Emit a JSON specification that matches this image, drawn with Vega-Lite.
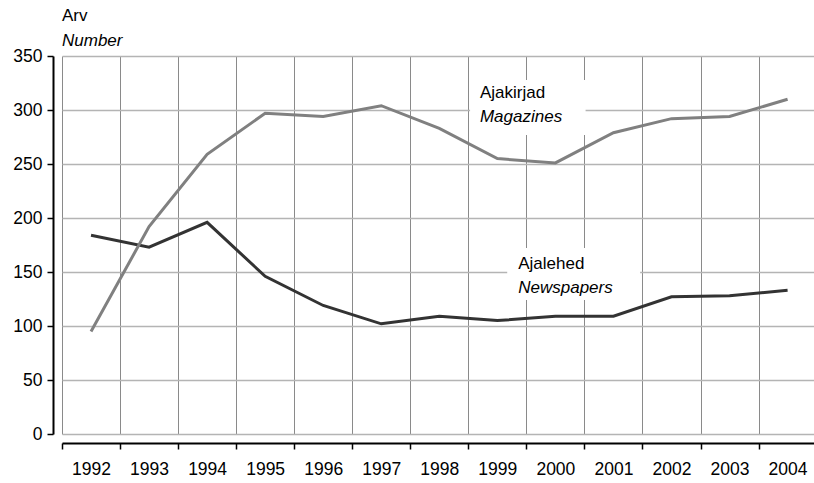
{
  "$schema": "https://vega.github.io/schema/vega-lite/v6.json",
  "width": 752,
  "height": 378,
  "autosize": {"type": "none"},
  "padding": {"left": 62, "top": 56, "right": 0, "bottom": 49},
  "background": "white",
  "config": {
    "view": {"stroke": null},
    "font": "Liberation Sans",
    "text": {"font": "Liberation Sans"}
  },
  "title": {
    "text": "Arv",
    "subtitle": "Number",
    "anchor": "start",
    "frame": "group",
    "font": "Liberation Sans",
    "fontSize": 17,
    "fontWeight": "normal",
    "color": "black",
    "subtitleFont": "Liberation Sans",
    "subtitleFontSize": 17,
    "subtitleFontStyle": "italic",
    "subtitleColor": "black",
    "subtitlePadding": 8,
    "offset": -3
  },
  "datasets": {
    "series": [
      {"x": 1992, "y": 184, "series": "Ajalehed"},
      {"x": 1993, "y": 173, "series": "Ajalehed"},
      {"x": 1994, "y": 196, "series": "Ajalehed"},
      {"x": 1995, "y": 146, "series": "Ajalehed"},
      {"x": 1996, "y": 119, "series": "Ajalehed"},
      {"x": 1997, "y": 102, "series": "Ajalehed"},
      {"x": 1998, "y": 109, "series": "Ajalehed"},
      {"x": 1999, "y": 105, "series": "Ajalehed"},
      {"x": 2000, "y": 109, "series": "Ajalehed"},
      {"x": 2001, "y": 109, "series": "Ajalehed"},
      {"x": 2002, "y": 127, "series": "Ajalehed"},
      {"x": 2003, "y": 128, "series": "Ajalehed"},
      {"x": 2004, "y": 133, "series": "Ajalehed"},
      {"x": 1992, "y": 95, "series": "Ajakirjad"},
      {"x": 1993, "y": 192, "series": "Ajakirjad"},
      {"x": 1994, "y": 259, "series": "Ajakirjad"},
      {"x": 1995, "y": 297, "series": "Ajakirjad"},
      {"x": 1996, "y": 294, "series": "Ajakirjad"},
      {"x": 1997, "y": 304, "series": "Ajakirjad"},
      {"x": 1998, "y": 283, "series": "Ajakirjad"},
      {"x": 1999, "y": 255, "series": "Ajakirjad"},
      {"x": 2000, "y": 251, "series": "Ajakirjad"},
      {"x": 2001, "y": 279, "series": "Ajakirjad"},
      {"x": 2002, "y": 292, "series": "Ajakirjad"},
      {"x": 2003, "y": 294, "series": "Ajakirjad"},
      {"x": 2004, "y": 310, "series": "Ajakirjad"}
    ],
    "boxes": [
      {"x": 1998.53, "x2": 2000.52, "y": 327.8, "y2": 276.9},
      {"x": 1999.17, "x2": 2001.46, "y": 172.2, "y2": 124.1}
    ],
    "labels": [
      {"x": 1998.70, "y": 311, "label": "Ajakirjad", "italic": false},
      {"x": 1998.70, "y": 289.2, "label": "Magazines", "italic": true},
      {"x": 1999.36, "y": 152.8, "label": "Ajalehed", "italic": false},
      {"x": 1999.36, "y": 130.3, "label": "Newspapers", "italic": true}
    ]
  },
  "layer": [
    {
      "data": {"name": "boxes"},
      "mark": {"type": "rect", "fill": "white", "stroke": null},
      "encoding": {
        "x": {"field": "x", "type": "quantitative"},
        "x2": {"field": "x2"},
        "y": {"field": "y", "type": "quantitative"},
        "y2": {"field": "y2"}
      }
    },
    {
      "data": {"name": "series"},
      "mark": {"type": "line", "strokeWidth": 3, "strokeJoin": "miter"},
      "encoding": {
        "x": {
          "field": "x",
          "type": "quantitative",
          "scale": {"domain": [1991.5, 2004.455], "nice": false, "zero": false},
          "axis": {
            "title": null,
            "values": [1991.5, 1992.5, 1993.5, 1994.5, 1995.5, 1996.5, 1997.5, 1998.5, 1999.5, 2000.5, 2001.5, 2002.5, 2003.5],
            "labelExpr": "format(datum.value + 0.5, 'd')",
            "labelOffset": 29,
            "labelOverlap": false,
            "labelBound": false,
            "labelFlush": false,
            "labelFont": "Liberation Sans",
            "labelFontSize": 17.5,
            "labelColor": "black",
            "labelPadding": 11,
            "offset": 9,
            "domainColor": "black",
            "domainWidth": 2,
            "tickColor": "black",
            "tickWidth": 1.5,
            "tickSize": 6,
            "grid": true,
            "gridColor": "#8a8a8a",
            "gridWidth": 1
          }
        },
        "y": {
          "field": "y",
          "type": "quantitative",
          "scale": {"domain": [0, 350], "nice": false},
          "axis": {
            "title": null,
            "values": [0, 50, 100, 150, 200, 250, 300, 350],
            "labelFont": "Liberation Sans",
            "labelFontSize": 17.5,
            "labelColor": "black",
            "labelPadding": 5,
            "offset": 9,
            "domainColor": "black",
            "domainWidth": 2,
            "tickColor": "black",
            "tickWidth": 1.5,
            "tickSize": 6,
            "grid": true,
            "gridColor": "#b4b4b4",
            "gridWidth": 1.5
          }
        },
        "color": {
          "field": "series",
          "type": "nominal",
          "scale": {"domain": ["Ajalehed", "Ajakirjad"], "range": ["#333333", "#808080"]},
          "legend": null
        }
      }
    },
    {
      "data": {"name": "labels"},
      "transform": [{"filter": "!datum.italic"}],
      "mark": {"type": "text", "align": "left", "baseline": "alphabetic", "fontSize": 17, "font": "Liberation Sans", "color": "black"},
      "encoding": {
        "x": {"field": "x", "type": "quantitative"},
        "y": {"field": "y", "type": "quantitative"},
        "text": {"field": "label"}
      }
    },
    {
      "data": {"name": "labels"},
      "transform": [{"filter": "datum.italic"}],
      "mark": {"type": "text", "align": "left", "baseline": "alphabetic", "fontSize": 17, "font": "Liberation Sans", "fontStyle": "italic", "color": "black"},
      "encoding": {
        "x": {"field": "x", "type": "quantitative"},
        "y": {"field": "y", "type": "quantitative"},
        "text": {"field": "label"}
      }
    }
  ]
}
